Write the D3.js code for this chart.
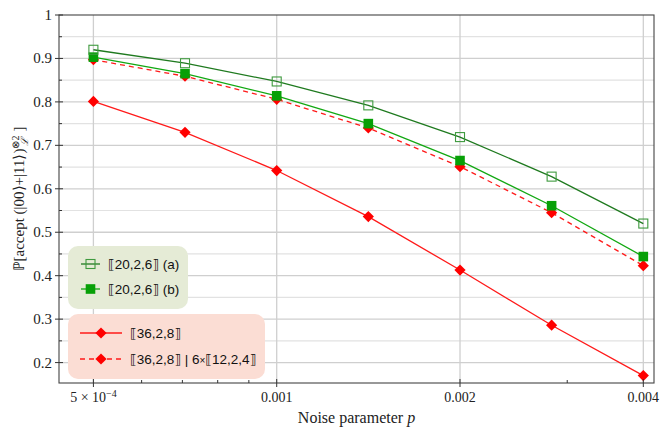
<!DOCTYPE html>
<html>
<head>
<meta charset="utf-8">
<script src="https://cdn.jsdelivr.net/npm/d3@7/dist/d3.min.js"></script>
<style>
  body { margin: 0; background: #fff; }
  svg { display: block; }
</style>
</head>
<body>
<svg id="chart" width="661" height="430"></svg>
<script>
// Noise parameter values (log-spaced)
const noiseP = [0.0005, 0.000707, 0.001, 0.001414, 0.002, 0.002828, 0.004];

// Acceptance probability for each code
const code20a = [0.920, 0.889, 0.847, 0.792, 0.719, 0.628, 0.520];
const code20b = [0.903, 0.865, 0.814, 0.750, 0.665, 0.561, 0.444];
const code36 = [0.801, 0.730, 0.642, 0.536, 0.413, 0.286, 0.170];
const code36concat = [0.897, 0.859, 0.806, 0.740, 0.651, 0.545, 0.423];

const xMajorTicks = [0.0005, 0.001, 0.002, 0.004];
const xMajorLabels = ["5×10⁻⁴", "0.001", "0.002", "0.004"];
const xMinorTicks = [0.0006, 0.0007, 0.0008, 0.0009, 0.003];
const yMajorTicks = [0.2, 0.3, 0.4, 0.5, 0.6, 0.7, 0.8, 0.9, 1.0];
const yMinorTicks = [0.25, 0.35, 0.45, 0.55, 0.65, 0.75, 0.85, 0.95];

const svg = d3.select("#chart");
const L = 59, R = 654, T = 15, B = 383;

const x = d3.scaleLog().domain([0.000439, 0.004165]).range([L, R]);
const y = d3.scaleLinear().domain([0.153, 1.0]).range([B, T]);

const serif = "'Liberation Serif', 'Times New Roman', serif";
const sans = "'Liberation Sans', Arial, 'DejaVu Sans', sans-serif";

// grid
const grid = svg.append("g");
grid.selectAll(".gyminor").data(yMinorTicks).join("line")
  .attr("x1", L).attr("x2", R)
  .attr("y1", d => y(d)).attr("y2", d => y(d))
  .attr("stroke", "#e2e2e2").attr("stroke-width", 1.2);
grid.selectAll(".gymajor").data(yMajorTicks.filter(d => d < 1)).join("line")
  .attr("x1", L).attr("x2", R)
  .attr("y1", d => y(d)).attr("y2", d => y(d))
  .attr("stroke", "#cfcfcf").attr("stroke-width", 1.3);
grid.selectAll(".gx").data(xMajorTicks).join("line")
  .attr("x1", d => x(d)).attr("x2", d => x(d))
  .attr("y1", T).attr("y2", B)
  .attr("stroke", "#cfcfcf").attr("stroke-width", 1.3);

// legend backgrounds
svg.append("rect").attr("x", 68).attr("y", 246).attr("width", 120).attr("height", 63)
  .attr("rx", 10).attr("fill", "#e5ebd6");
svg.append("rect").attr("x", 68).attr("y", 314).attr("width", 197).attr("height", 65)
  .attr("rx", 10).attr("fill", "#fbddd4");

// series
const series = [
  { name: "a", values: code20a, color: "#1f7a1f", dash: null, marker: "openSquare", mcolor: "#3f9a3f" },
  { name: "b", values: code20b, color: "#12a812", dash: null, marker: "square", mcolor: "#07a007" },
  { name: "c36", values: code36, color: "#ff1a1a", dash: null, marker: "diamond", mcolor: "#ff0000" },
  { name: "c36cat", values: code36concat, color: "#ff1a1a", dash: "5,4", marker: "diamond", mcolor: "#ff0000" }
];

const line = d3.line().x(d => x(d[0])).y(d => y(d[1]));

function drawMarker(g, type, cx, cy, color) {
  if (type === "openSquare") {
    g.append("rect").attr("x", cx - 4.5).attr("y", cy - 4.5).attr("width", 9).attr("height", 9)
      .attr("fill", "none").attr("stroke", color).attr("stroke-width", 1.1);
  } else if (type === "square") {
    g.append("rect").attr("x", cx - 4.8).attr("y", cy - 4.8).attr("width", 9.6).attr("height", 9.6)
      .attr("fill", color);
  } else {
    const s = 5.6;
    g.append("path").attr("d", `M${cx},${cy - s}L${cx + s},${cy}L${cx},${cy + s}L${cx - s},${cy}Z`)
      .attr("fill", color);
  }
}

const plot = svg.append("g");
series.forEach(s => {
  const pts = noiseP.map((p, i) => [p, s.values[i]]);
  plot.append("path").attr("d", line(pts)).attr("fill", "none")
    .attr("stroke", s.color).attr("stroke-width", 1.3)
    .attr("stroke-dasharray", s.dash);
});
// markers drawn after all lines
[series[3], series[2], series[1], series[0]].forEach(s => {
  const g = plot.append("g");
  noiseP.forEach((p, i) => drawMarker(g, s.marker, x(p), y(s.values[i]), s.mcolor));
});

// frame
svg.append("rect").attr("x", L).attr("y", T).attr("width", R - L).attr("height", B - T)
  .attr("fill", "none").attr("stroke", "#444").attr("stroke-width", 1.1);

// ticks
const ticks = svg.append("g").attr("stroke", "#333").attr("stroke-width", 1);
ticks.selectAll(".xM").data(xMajorTicks).join("line")
  .attr("x1", d => x(d)).attr("x2", d => x(d)).attr("y1", B - 4).attr("y2", B + 4);
ticks.selectAll(".xm").data(xMinorTicks).join("line")
  .attr("x1", d => x(d)).attr("x2", d => x(d)).attr("y1", B - 3).attr("y2", B);
ticks.selectAll(".yM").data(yMajorTicks).join("line")
  .attr("x1", L - 4).attr("x2", L + 4).attr("y1", d => y(d)).attr("y2", d => y(d));
ticks.selectAll(".ym").data(yMinorTicks).join("line")
  .attr("x1", L).attr("x2", L + 3).attr("y1", d => y(d)).attr("y2", d => y(d));

// tick labels
svg.append("g").selectAll("text").data(yMajorTicks).join("text")
  .attr("x", L - 7).attr("y", d => y(d) + 5)
  .attr("text-anchor", "end")
  .attr("font-family", serif).attr("font-size", 15).attr("fill", "#222")
  .text(d => d === 1 ? "1" : d3.format(".1f")(d));

const xl = svg.append("g").attr("font-family", serif).attr("font-size", 14).attr("fill", "#222");
xMajorTicks.forEach((t, i) => {
  if (i === 0) {
    const tx = xl.append("text").attr("x", x(t)).attr("y", 402).attr("text-anchor", "middle");
    tx.append("tspan").text("5 × 10");
    tx.append("tspan").attr("dy", -5).attr("font-size", 10).text("−4");
  } else {
    xl.append("text").attr("x", x(t)).attr("y", 402).attr("text-anchor", "middle").text(xMajorLabels[i]);
  }
});

// axis titles
const xt = svg.append("text").attr("x", (L + R) / 2).attr("y", 423).attr("text-anchor", "middle")
  .attr("font-family", serif).attr("font-size", 16).attr("fill", "#222");
xt.append("tspan").text("Noise parameter ");
xt.append("tspan").attr("font-style", "italic").text("p");

const yt = svg.append("text").attr("transform", "translate(24,199) rotate(-90)")
  .attr("text-anchor", "middle").attr("font-family", serif).attr("font-size", 15).attr("fill", "#222");
yt.append("tspan").text("ℙ[accept (|00⟩+|11⟩)");
yt.append("tspan").attr("dy", -5).attr("font-size", 10).text("⊗2");
yt.append("tspan").attr("dx", -10).attr("dy", 9).attr("font-size", 10).attr("font-style", "italic").text("ℒ");
yt.append("tspan").attr("dx", 6).attr("dy", -4).text("]");

// legend entries
const legend = [
  { label: "⟦20,2,6⟧ (a)", s: series[0], y: 264, x1: 81, x2: 100, tx: 108 },
  { label: "⟦20,2,6⟧ (b)", s: series[1], y: 289, x1: 81, x2: 100, tx: 108 },
  { label: "⟦36,2,8⟧", s: series[2], y: 333, x1: 80, x2: 122, tx: 130 },
  { label: "⟦36,2,8⟧ | 6×⟦12,2,4⟧", s: series[3], y: 359, x1: 80, x2: 122, tx: 130 }
];
const lg = svg.append("g");
legend.forEach(e => {
  lg.append("line").attr("x1", e.x1).attr("x2", e.x2).attr("y1", e.y).attr("y2", e.y)
    .attr("stroke", e.s.color).attr("stroke-width", 1.3).attr("stroke-dasharray", e.s.dash);
  drawMarker(lg, e.s.marker, (e.x1 + e.x2) / 2, e.y, e.s.mcolor);
  const t = lg.append("text").attr("x", e.tx).attr("y", e.y + 5)
    .attr("font-family", sans).attr("font-size", 13.5).attr("fill", "#111");
  const parts = e.label.split("×");
  if (parts.length === 2) {
    t.append("tspan").text(parts[0]);
    t.append("tspan").attr("font-size", 10).text("×");
    t.append("tspan").text(parts[1]);
  } else {
    t.text(e.label);
  }
});
</script>
</body>
</html>
